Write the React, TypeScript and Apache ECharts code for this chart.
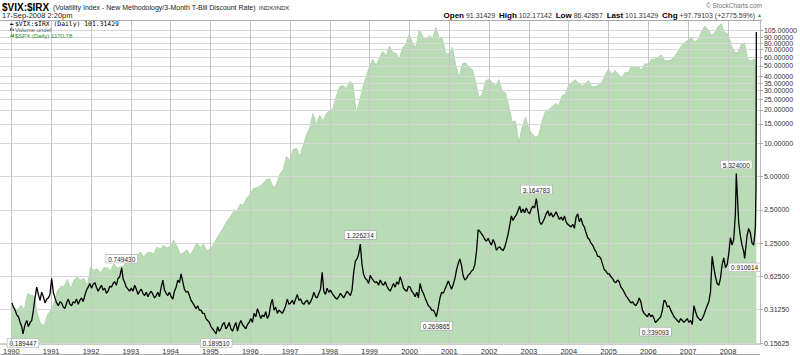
import React, { useEffect, useRef } from "react";
import * as echarts from "echarts";

// ---------- DATA ----------
const years = [1990, 1991, 1992, 1993, 1994, 1995, 1996, 1997, 1998, 1999, 2000, 2001, 2002, 2003, 2004, 2005, 2006, 2007, 2008];

// $VIX:$IRX half-month readings (24 per year); null = slot taken by a labelled extreme
const r1990 = [0.36, 0.33, 0.31, 0.28, 0.27, 0.24, 0.22, null, 0.23, 0.25, 0.22, 0.24, 0.25, 0.31, 0.40, 0.50, 0.43, 0.38, 0.45, 0.41, 0.36, 0.39, 0.40, 0.43];
const r1991 = [0.60, 0.45, 0.40, 0.36, 0.34, 0.37, 0.36, 0.33, 0.32, 0.36, 0.39, 0.35, 0.34, 0.37, 0.36, 0.39, 0.35, 0.38, 0.40, 0.37, 0.42, 0.47, 0.50, 0.54];
const r1992 = [0.49, 0.53, 0.55, 0.50, 0.46, 0.49, 0.52, 0.47, 0.49, 0.44, 0.46, 0.51, 0.50, 0.54, 0.56, 0.52, 0.60, 0.62, null, 0.60, 0.55, 0.50, 0.48, 0.46];
const r1993 = [0.49, 0.46, 0.52, 0.48, 0.43, 0.46, 0.48, 0.44, 0.42, 0.45, 0.41, 0.44, 0.46, 0.43, 0.40, 0.42, 0.45, 0.41, 0.50, 0.58, 0.47, 0.44, 0.42, 0.45];
const r1994 = [0.41, 0.39, 0.46, 0.50, 0.58, 0.55, 0.66, 0.56, 0.48, 0.45, 0.46, 0.42, 0.38, 0.36, 0.34, 0.32, 0.34, 0.31, 0.31, 0.29, 0.29, 0.26, 0.25, 0.24];
const r1995 = [0.22, 0.21, 0.20, null, 0.22, 0.20, 0.21, 0.23, 0.24, 0.21, 0.22, 0.24, 0.21, 0.20, 0.22, 0.24, 0.20, 0.23, 0.25, 0.23, 0.22, 0.21, 0.23, 0.24];
const r1996 = [0.26, 0.24, 0.29, 0.27, 0.32, 0.29, 0.26, 0.28, 0.27, 0.30, 0.26, 0.28, 0.35, 0.39, 0.31, 0.33, 0.29, 0.31, 0.30, 0.29, 0.31, 0.34, 0.39, 0.35];
const r1997 = [0.36, 0.38, 0.35, 0.39, 0.43, 0.38, 0.39, 0.36, 0.35, 0.37, 0.38, 0.35, 0.37, 0.40, 0.45, 0.41, 0.40, 0.44, 0.48, 0.68, 0.46, 0.43, 0.49, 0.45];
const r1998 = [0.47, 0.44, 0.42, 0.40, 0.39, 0.41, 0.44, 0.42, 0.40, 0.43, 0.46, 0.44, 0.42, 0.47, 0.68, 0.86, 0.90, 1.00, null, 0.80, 0.65, 0.60, 0.58, 0.54];
const r1999 = [0.64, 0.60, 0.57, 0.55, 0.56, 0.52, 0.58, 0.54, 0.52, 0.56, 0.51, 0.48, 0.46, 0.50, 0.54, 0.50, 0.56, 0.53, 0.62, 0.56, 0.49, 0.47, 0.46, 0.51];
const r2000 = [0.50, 0.46, 0.44, 0.41, 0.45, 0.40, 0.54, 0.47, 0.44, 0.40, 0.37, 0.34, 0.33, 0.31, 0.31, 0.29, null, 0.33, 0.40, 0.45, 0.44, 0.48, 0.52, 0.57];
const r2001 = [0.52, 0.48, 0.53, 0.60, 0.72, 0.82, 0.90, 0.78, 0.63, 0.58, 0.60, 0.64, 0.66, 0.70, 0.72, 0.80, 1.05, 1.65, 1.60, 1.52, 1.45, 1.35, 1.30, 1.38];
const r2002 = [1.28, 1.20, 1.35, 1.25, 1.08, 1.13, 1.16, 1.10, 1.07, 1.15, 1.30, 1.50, 1.80, 2.20, 2.00, 2.15, 2.25, 2.45, 2.70, 2.35, 2.55, 2.35, 2.60, 2.40];
const r2003 = [2.30, 2.55, 2.70, 2.60, null, 2.50, 1.95, 1.85, 1.95, 2.10, 2.30, 2.45, 2.20, 2.35, 2.15, 2.25, 2.40, 2.20, 2.05, 2.15, 2.00, 2.20, 1.95, 1.85];
const r2004 = [1.80, 1.75, 1.85, 1.70, 2.15, 2.30, 1.95, 2.10, 1.85, 1.75, 1.55, 1.40, 1.35, 1.25, 1.20, 1.10, 1.05, 0.95, 0.95, 0.90, 0.80, 0.72, 0.70, 0.66];
const r2005 = [0.66, 0.62, 0.60, 0.56, 0.55, 0.58, 0.56, 0.50, 0.48, 0.45, 0.42, 0.40, 0.38, 0.36, 0.37, 0.35, 0.34, 0.36, 0.40, 0.37, 0.31, 0.29, 0.28, 0.27];
const r2006 = [0.29, 0.27, 0.28, 0.26, null, 0.25, 0.26, 0.27, 0.31, 0.38, 0.37, 0.33, 0.34, 0.31, 0.29, 0.27, 0.26, 0.25, 0.24, 0.26, 0.25, 0.24, 0.25, 0.26];
const r2007 = [0.24, 0.25, 0.23, 0.34, 0.30, 0.27, 0.26, 0.25, 0.26, 0.28, 0.31, 0.34, 0.37, 0.45, 0.95, 0.75, 0.62, 0.54, 0.52, 0.60, 0.80, 0.92, 0.75, 0.80];
const r2008 = [1.00, 1.40, 1.20, 1.35, 2.30, null, 1.90, 1.45, 1.20, 1.05, null, 1.45, 1.70, 1.55, 1.25, 1.20];
const ratioByYear = [r1990, r1991, r1992, r1993, r1994, r1995, r1996, r1997, r1998, r1999, r2000, r2001, r2002, r2003, r2004, r2005, r2006, r2007, r2008];

// last days of the series (decimal year, value)
const ratioSep2008: [number, number][] = [[2008.67, 1.45], [2008.69, 1.75], [2008.705, 4.0], [2008.713, 101.31429]];

// labelled extremes (decimal year, value, label side)
const extremes: { t: number; v: number; pos: "top" | "bottom" }[] = [
  { t: 1990.30, v: 0.189447, pos: "bottom" },
  { t: 1992.78, v: 0.74943, pos: "top" },
  { t: 1995.15, v: 0.18951, pos: "bottom" },
  { t: 1998.77, v: 1.226274, pos: "top" },
  { t: 2000.68, v: 0.269865, pos: "bottom" },
  { t: 2003.19, v: 3.164783, pos: "top" },
  { t: 2006.18, v: 0.239093, pos: "bottom" },
  { t: 2008.21, v: 5.324, pos: "top" },
  { t: 2008.42, v: 0.910614, pos: "bottom" },
];

// $SPX month-end closes, Jan..Dec
const s1990 = [329, 331, 339, 331, 361, 358, 356, 322, 306, 304, 322, 330];
const s1991 = [344, 367, 375, 375, 390, 371, 388, 395, 388, 392, 375, 417];
const s1992 = [409, 413, 404, 415, 415, 408, 424, 414, 418, 419, 431, 436];
const s1993 = [439, 443, 452, 440, 450, 451, 448, 464, 459, 468, 462, 466];
const s1994 = [482, 467, 446, 451, 457, 444, 458, 475, 463, 472, 454, 459];
const s1995 = [470, 487, 501, 515, 533, 545, 562, 562, 584, 582, 605, 616];
const s1996 = [636, 640, 645, 654, 669, 671, 640, 652, 687, 705, 757, 741];
const s1997 = [786, 791, 757, 801, 848, 885, 954, 899, 947, 915, 955, 970];
const s1998 = [980, 1049, 1102, 1112, 1091, 1134, 1121, 957, 1017, 1099, 1164, 1229];
const s1999 = [1280, 1238, 1286, 1335, 1302, 1373, 1329, 1320, 1283, 1363, 1389, 1469];
const s2000 = [1394, 1366, 1499, 1452, 1421, 1455, 1431, 1518, 1437, 1429, 1315, 1320];
const s2001 = [1366, 1240, 1160, 1249, 1256, 1224, 1211, 1134, 1041, 1060, 1139, 1148];
const s2002 = [1130, 1107, 1147, 1077, 1067, 990, 912, 916, 815, 886, 936, 880];
const s2003 = [856, 841, 848, 917, 964, 975, 990, 1008, 996, 1051, 1058, 1112];
const s2004 = [1131, 1145, 1126, 1107, 1121, 1141, 1102, 1104, 1115, 1130, 1174, 1212];
const s2005 = [1181, 1204, 1181, 1157, 1192, 1191, 1234, 1220, 1229, 1207, 1249, 1248];
const s2006 = [1280, 1281, 1295, 1311, 1270, 1270, 1277, 1304, 1336, 1378, 1401, 1418];
const s2007 = [1438, 1407, 1421, 1482, 1531, 1503, 1455, 1474, 1527, 1549, 1481, 1468];
const s2008 = [1379, 1331, 1323, 1386, 1400, 1280, 1267, 1283];
const spxByYear = [s1990, s1991, s1992, s1993, s1994, s1995, s1996, s1997, s1998, s1999, s2000, s2001, s2002, s2003, s2004, s2005, s2006, s2007, s2008];
const spxFirst: [number, number] = [1990.0, 353.4];
const spxLast: [number, number] = [2008.713, 1170.78];

// right-axis tick labels
const yTicks = [0.15625, 0.3125, 0.625, 1.25, 2.5, 5, 10, 15, 20, 25, 30, 35, 40, 50, 60, 70, 80, 90, 105];

// ---------- BUILD ----------
const L = (v: number) => Math.log10(v);

function buildRatio(): [number, number][] {
  const out: [number, number][] = [];
  ratioByYear.forEach((arr, i) =>
    arr.forEach((v, k) => {
      if (v != null) out.push([years[i] + (k + 0.5) / 24, v]);
    })
  );
  extremes.forEach((e) => out.push([e.t, e.v]));
  ratioSep2008.forEach((p) => out.push(p));
  out.sort((a, b) => a[0] - b[0]);
  return out.map(([t, v]) => [t, L(v)]);
}

function buildSpx(): [number, number][] {
  const out: [number, number][] = [spxFirst];
  spxByYear.forEach((arr, i) => arr.forEach((v, m) => out.push([years[i] + (m + 1) / 12, v])));
  out.push(spxLast);
  return out.map(([t, v]) => [t, L(v)]);
}

const FONT = "Liberation Sans, Arial, sans-serif";

// main time axis span and its pixel mapping
const X_MIN = 1989.724;
const X_MAX = 2008.803;
const PLOT_W = 760;
const xPix = (t: number) => (PLOT_W * (t - X_MIN)) / (X_MAX - X_MIN);

export default function App() {
  const ref = useRef<HTMLDivElement>(null);
  useEffect(() => {
    if (!ref.current) return;
    const chart = echarts.init(ref.current, null, { renderer: "svg" });
    const grid = "#d6d6d6";
    const vGrid = "#c6c6c6";
    const firstYear = years[0];
    const lastYear = years[years.length - 1];
    chart.setOption({
      animation: false,
      backgroundColor: "#fff",
      grid: [
        { left: 0, right: 800 - PLOT_W, top: 20, bottom: 11 },
        // same plot box, spanning the first to the last year line (for the year grid and labels)
        { left: Math.round(xPix(firstYear)), right: 800 - Math.round(xPix(lastYear)), top: 20, bottom: 11 },
      ],
      xAxis: [
        {
          type: "value",
          gridIndex: 0,
          min: X_MIN,
          max: X_MAX,
          z: 5,
          axisLine: { show: true, onZero: false, lineStyle: { color: "#ccc", width: 1 } },
          axisTick: { show: false },
          axisLabel: { show: false },
          splitLine: { show: false },
        },
        {
          type: "value",
          gridIndex: 1,
          min: firstYear,
          max: lastYear,
          interval: 1,
          z: 6,
          axisLine: { show: false, onZero: false },
          axisTick: { show: false },
          axisLabel: {
            show: true,
            formatter: (v: number) => String(v),
            fontSize: 7.5,
            fontFamily: FONT,
            color: "#333",
            margin: 3,
          },
          splitLine: { show: true, lineStyle: { color: vGrid, width: 1, opacity: 1 } },
        },
      ],
      yAxis: [
        {
          type: "value",
          gridIndex: 0,
          position: "right",
          min: L(0.1532),
          max: L(130),
          z: 5,
          axisLine: { show: true, onZero: false, lineStyle: { color: "#bbb", width: 1 } },
          axisTick: { show: true, length: 3, customValues: yTicks.map(L), lineStyle: { color: "#aaa" } },
          axisLabel: {
            customValues: yTicks.map(L),
            formatter: (v: number) => Math.pow(10, v).toFixed(5),
            fontSize: 7,
            fontFamily: FONT,
            color: "#333",
            margin: 4,
          },
          splitLine: { show: true, lineStyle: { color: grid, width: 1 } },
        },
        {
          type: "value",
          gridIndex: 0,
          min: L(275),
          max: L(1582),
          show: false,
          splitLine: { show: false },
        },
        {
          type: "value",
          gridIndex: 1,
          min: 0,
          max: 1,
          show: false,
          splitLine: { show: false },
        },
      ],
      series: [
        {
          name: "$SPX (Daily)",
          type: "line",
          xAxisIndex: 0,
          yAxisIndex: 1,
          data: buildSpx(),
          showSymbol: false,
          symbol: "none",
          z: 1,
          lineStyle: { color: "#a9d0a5", width: 0.8 },
          areaStyle: { color: "#b9dbb6", opacity: 1 },
        },
        {
          name: "$VIX:$IRX (Daily)",
          type: "line",
          xAxisIndex: 0,
          yAxisIndex: 0,
          data: buildRatio(),
          showSymbol: false,
          symbol: "none",
          z: 10,
          lineStyle: { color: "#000", width: 1.3 },
          markPoint: {
            symbol: "triangle",
            symbolSize: 0,
            data: extremes.map((e) => ({
              coord: [e.t, L(e.v)],
              value: e.v,
              label: { position: e.pos },
            })),
            label: {
              show: true,
              formatter: (p: any) => Number(p.value).toFixed(6),
              fontSize: 6.5,
              fontFamily: FONT,
              color: "#222",
              backgroundColor: "#fff",
              borderColor: "#aaa",
              borderWidth: 0.6,
              padding: [1, 2, 0, 2],
              distance: 5,
            },
          },
        },
      ],
      graphic: [
        { type: "line", shape: { x1: 0, y1: 20.5, x2: 762, y2: 20.5 }, style: { stroke: "#aaa", lineWidth: 1 }, z: 20 },
        { type: "line", shape: { x1: 0, y1: 354.5, x2: 760, y2: 354.5 }, style: { stroke: "#aaa", lineWidth: 1 }, z: 20 },
        {
          type: "text", x: 2, y: 7, z: 20,
          style: { text: "$VIX:$IRX", font: `bold 10px ${FONT}`, fill: "#000", verticalAlign: "middle", textVerticalAlign: "middle" },
        },
        {
          type: "text", x: 53, y: 7.5, z: 20,
          style: { text: "(Volatility Index - New Methodology/3-Month T-Bill Discount Rate)", font: `7px ${FONT}`, fill: "#222", verticalAlign: "middle", textVerticalAlign: "middle" },
        },
        {
          type: "text", x: 259, y: 7.5, z: 20,
          style: { text: "INDX/INDX", font: `6px ${FONT}`, fill: "#222", verticalAlign: "middle", textVerticalAlign: "middle" },
        },
        {
          type: "text", x: 2, y: 15.5, z: 20,
          style: { text: "17-Sep-2008 2:20pm", font: `7.5px ${FONT}`, fill: "#222", verticalAlign: "middle", textVerticalAlign: "middle" },
        },
        {
          type: "text", x: 762, y: 5, z: 20,
          style: { text: "© StockCharts.com", font: `6.5px ${FONT}`, fill: "#777", align: "right", textAlign: "right", verticalAlign: "middle", textVerticalAlign: "middle" },
        },
        {
          type: "text", x: 762, y: 15, z: 20,
          style: {
            text: "{b|Open} 91.31429  {b|High} 102.17142  {b|Low} 86.42857  {b|Last} 101.31429  {b|Chg} +97.79103 (+2775.59%) {g|▲}",
            font: `7px ${FONT}`,
            fill: "#333",
            align: "right",
            textAlign: "right",
            verticalAlign: "middle",
            textVerticalAlign: "middle",
            rich: {
              b: { fontWeight: "bold", fontSize: 8, fontFamily: FONT, fill: "#000", color: "#000" },
              g: { fontSize: 5, fill: "#2a9a2a", color: "#2a9a2a" },
            },
          },
        },
        // legend
        { type: "line", shape: { x1: 10, y1: 24.3, x2: 13.5, y2: 24.3 }, style: { stroke: "#000", lineWidth: 1.2 }, z: 20 },
        {
          type: "text", x: 15, y: 24.2, z: 20,
          style: { text: "$VIX:$IRX (Daily) 101.31429", font: `6.4px DejaVu Sans Mono, monospace`, fill: "#000", verticalAlign: "middle", textVerticalAlign: "middle" },
        },
        { type: "rect", shape: { x: 10, y: 28.5, width: 1, height: 2.5 }, style: { fill: "#666" }, z: 20 },
        { type: "rect", shape: { x: 11.5, y: 27.5, width: 1, height: 3.5 }, style: { fill: "#666" }, z: 20 },
        { type: "rect", shape: { x: 13, y: 29, width: 1, height: 2 }, style: { fill: "#666" }, z: 20 },
        {
          type: "text", x: 15, y: 29.8, z: 20,
          style: { text: "Volume undef", font: `6px ${FONT}`, fill: "#666", verticalAlign: "middle", textVerticalAlign: "middle" },
        },
        { type: "polygon", shape: { points: [[10, 37], [11.5, 33.5], [12.5, 35.5], [13.5, 33], [14.5, 37]] }, style: { fill: "#55a855" }, z: 20 },
        {
          type: "text", x: 15, y: 35.6, z: 20,
          style: { text: "$SPX (Daily) 1170.78", font: `6px ${FONT}`, fill: "#2f8f2f", verticalAlign: "middle", textVerticalAlign: "middle" },
        },
      ],
    });
    return () => chart.dispose();
  }, []);
  return <div ref={ref} style={{ position: "absolute", left: 0, top: 0, width: 800, height: 355 }} />;
}
